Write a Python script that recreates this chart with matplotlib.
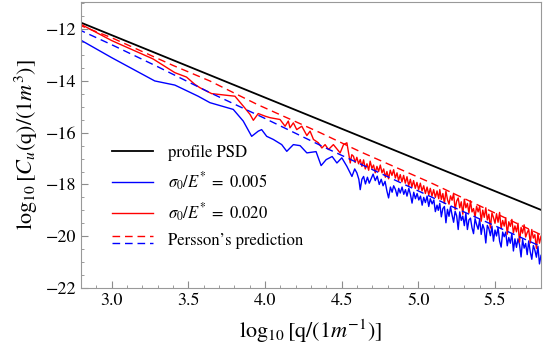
import matplotlib
matplotlib.use("Agg")
import matplotlib.pyplot as plt
from matplotlib.lines import Line2D
from matplotlib.legend_handler import HandlerBase
from matplotlib.ticker import MultipleLocator

plt.rcParams['font.family'] = 'STIXGeneral'
plt.rcParams['mathtext.fontset'] = 'stix'

# profile PSD (straight power law)
psd_x = [2.78, 5.82]
psd_y = [-11.70, -19.03]

# Persson's prediction
pr_red_x = [2.78, 3.0, 3.4, 3.64, 3.95, 4.36, 4.62, 5.08, 5.82]
pr_red_y = [-11.82, -12.33, -13.40, -14.0, -14.91, -16.0, -16.73, -17.93, -20.0]
pr_blue_x = [2.78, 3.0, 3.3, 3.64, 4.0, 4.4, 4.8, 5.2, 5.82]
pr_blue_y = [-12.0, -12.6, -13.45, -14.45, -15.45, -16.6, -17.7, -18.8, -20.45]

# sigma0/E* = 0.005 (blue)
blue_x = [2.78, 3.0, 3.15, 3.281, 3.412, 3.564, 3.641, 3.793, 3.858, 3.913,
          3.956, 3.978, 4.011, 4.054, 4.109, 4.142, 4.185, 4.229, 4.273, 4.333,
          4.366, 4.399, 4.438, 4.469, 4.501, 4.534, 4.567, 4.585,
          4.599, 4.612, 4.621, 4.632, 4.643, 4.655, 4.668, 4.680, 4.692, 4.705,
          4.719, 4.732, 4.745, 4.758, 4.770, 4.783, 4.795, 4.806, 4.818, 4.829,
          4.839, 4.851, 4.862, 4.872, 4.882, 4.894, 4.905, 4.916, 4.926, 4.938,
          4.949, 4.959, 4.970, 4.981, 4.992, 5.003, 5.014, 5.025, 5.035, 5.046,
          5.057, 5.068, 5.078, 5.090, 5.101, 5.111, 5.122,
          5.13, 5.14, 5.15, 5.16, 5.17, 5.18, 5.19, 5.20, 5.21, 5.22,
          5.23, 5.24, 5.25, 5.26, 5.27, 5.28, 5.29, 5.30, 5.31, 5.32,
          5.33, 5.34, 5.35, 5.36, 5.37, 5.38, 5.39, 5.40, 5.41, 5.42,
          5.43, 5.44, 5.45, 5.46, 5.47, 5.48, 5.49, 5.50, 5.51, 5.52,
          5.53, 5.54, 5.55, 5.56, 5.57, 5.58, 5.59, 5.60, 5.61, 5.62,
          5.63, 5.64, 5.65, 5.66, 5.67, 5.68, 5.69, 5.70, 5.71, 5.72,
          5.73, 5.74, 5.75, 5.76, 5.77, 5.78, 5.79, 5.80]
blue_y = [-12.36, -13.10, -13.58, -14.00, -14.16, -14.59, -14.84, -15.10, -15.55, -16.14,
          -15.94, -15.88, -16.14, -16.26, -16.46, -16.72, -16.46, -16.50, -16.78, -16.73,
          -17.27, -17.04, -16.92, -17.17, -16.97, -17.30, -17.69, -17.40,
          -17.55, -17.80, -18.20, -17.80, -17.69, -17.98, -17.72, -17.95, -17.78, -17.60,
          -17.85, -17.68, -18.00, -17.80, -18.05, -17.88, -18.25, -18.52, -18.10, -18.30,
          -18.05, -18.20, -18.45, -18.15, -18.33, -18.10, -18.38, -18.20, -18.45, -18.15,
          -18.40, -18.72, -18.30, -18.55, -18.35, -18.60, -18.45, -18.80, -18.50, -18.70,
          -18.45, -18.85, -18.55, -18.75, -18.60, -19.05, -18.80,
          -19.00, -18.73, -19.25, -18.93, -18.85, -19.48, -18.96, -19.23, -18.86, -19.18,
          -19.46, -19.04, -19.21, -19.74, -19.06, -19.39, -19.22, -19.59, -19.12, -19.74,
          -19.37, -19.30, -19.67, -19.90, -19.32, -19.55, -19.73, -19.35, -19.93, -19.55,
          -19.73, -20.26, -19.58, -19.71, -19.98, -19.61, -20.19, -19.76, -19.99, -19.66,
          -20.19, -20.42, -19.84, -20.02, -19.84, -20.37, -20.05, -20.27, -19.90, -20.57,
          -20.10, -20.43, -20.10, -20.33, -20.80, -20.13, -20.46, -20.28, -20.71, -20.18,
          -20.61, -20.89, -20.36, -20.54, -20.81, -20.39, -21.07, -20.74]

# sigma0/E* = 0.020 (red)
red_x = [2.78, 3.0, 3.27, 3.412, 3.488, 3.542, 3.575, 3.652, 3.804, 3.858,
         3.902, 3.924, 3.956, 4.000, 4.033, 4.098, 4.131, 4.152, 4.163, 4.185,
         4.207, 4.240, 4.273, 4.294, 4.316, 4.348, 4.371, 4.392, 4.414, 4.446,
         4.490, 4.512, 4.534,
         4.556, 4.566, 4.577, 4.588, 4.599, 4.610, 4.621, 4.632, 4.643, 4.654,
         4.665, 4.676, 4.686, 4.697, 4.708, 4.719, 4.730, 4.741, 4.752, 4.763,
         4.774, 4.785, 4.795, 4.806, 4.817, 4.828, 4.839, 4.850, 4.861, 4.871,
         4.882, 4.893, 4.904, 4.915, 4.926, 4.937, 4.948, 4.958, 4.969, 4.980,
         4.991, 5.002, 5.013, 5.024, 5.035, 5.046, 5.057, 5.068, 5.078, 5.089,
         5.100, 5.111, 5.122, 5.133,
         5.14, 5.15, 5.16, 5.17, 5.18, 5.19, 5.20, 5.21, 5.22, 5.23,
         5.24, 5.25, 5.26, 5.27, 5.28, 5.29, 5.30, 5.31, 5.32, 5.33,
         5.34, 5.35, 5.36, 5.37, 5.38, 5.39, 5.40, 5.41, 5.42, 5.43,
         5.44, 5.45, 5.46, 5.47, 5.48, 5.49, 5.50, 5.51, 5.52, 5.53,
         5.54, 5.55, 5.56, 5.57, 5.58, 5.59, 5.60, 5.61, 5.62, 5.63,
         5.64, 5.65, 5.66, 5.67, 5.68, 5.69, 5.70, 5.71, 5.72, 5.73,
         5.74, 5.75, 5.76, 5.77, 5.78, 5.79, 5.80]
red_y = [-11.75, -12.44, -13.15, -13.68, -13.85, -14.13, -14.26, -14.49, -14.59, -14.97,
         -15.29, -15.52, -15.26, -15.36, -15.42, -15.49, -15.75, -15.55, -15.81, -15.62,
         -15.88, -15.75, -16.11, -15.94, -16.26, -16.39, -16.59, -16.46, -16.65, -16.46,
         -16.78, -16.46, -16.39,
         -17.17, -16.85, -16.91, -17.15, -16.95, -17.20, -17.04, -17.30, -17.05, -17.40,
         -17.20, -17.45, -17.10, -17.38, -17.25, -17.55, -17.30, -17.50, -17.25, -17.55,
         -17.40, -17.72, -17.50, -17.78, -17.45, -17.65, -17.43, -17.75, -17.55, -17.85,
         -17.62, -17.90, -17.65, -17.95, -17.70, -18.05, -17.80, -18.10, -17.85, -18.15,
         -17.92, -18.20, -17.95, -18.25, -18.05, -18.35, -18.10, -18.40, -18.15, -18.45,
         -18.20, -18.50, -18.25, -18.55,
         -18.20, -18.58, -18.35, -18.73, -18.26, -18.58, -18.76, -18.44, -18.61, -18.34,
         -18.97, -18.64, -18.52, -18.90, -18.67, -19.15, -18.57, -18.90, -18.73, -19.10,
         -18.63, -19.06, -18.93, -19.26, -18.84, -19.06, -18.84, -19.42, -18.99, -19.27,
         -18.90, -19.37, -19.15, -19.68, -19.10, -19.28, -19.50, -19.13, -19.46, -19.08,
         -19.71, -19.39, -19.61, -19.29, -19.92, -19.44, -19.62, -19.35, -19.87, -19.60,
         -19.83, -19.50, -20.23, -19.66, -19.88, -19.56, -20.03, -19.86, -19.74, -20.26,
         -19.74, -20.07, -19.94, -20.47, -19.90, -20.27, -20.00]


class TwoDashHandler(HandlerBase):
    # draws the red and blue dashed samples one above the other
    def create_artists(self, legend, orig_handle, xdescent, ydescent,
                       width, height, fontsize, trans):
        arts = []
        for ln, frac in zip(orig_handle, (0.78, 0.22)):
            yy = frac * height - ydescent
            a = Line2D([-xdescent, width - xdescent], [yy, yy],
                       color=ln.get_color(), lw=ln.get_linewidth(),
                       linestyle=ln.get_linestyle(), dashes=(5.5, 3.5))
            a.set_transform(trans)
            arts.append(a)
        return arts


fig = plt.figure(figsize=(5.45, 3.6), dpi=100)
ax = fig.add_axes([81 / 545, 72 / 360, 460 / 545, 286 / 360])

h_psd, = ax.plot(psd_x, psd_y, color='black', lw=1.3)
h_blue, = ax.plot(blue_x, blue_y, color='#0000ff', lw=1.0)
h_red, = ax.plot(red_x, red_y, color='#ff0000', lw=1.0)
h_prr, = ax.plot(pr_red_x, pr_red_y, color='#ff0000', lw=1.0, dashes=(5.5, 3.5))
h_prb, = ax.plot(pr_blue_x, pr_blue_y, color='#0000ff', lw=1.0, dashes=(5.5, 3.5))

ax.set_xlim(2.8, 5.8)
ax.set_ylim(-22, -10.95)
ax.xaxis.set_major_locator(MultipleLocator(0.5))
ax.xaxis.set_minor_locator(MultipleLocator(0.1))
ax.yaxis.set_major_locator(MultipleLocator(2))
ax.yaxis.set_minor_locator(MultipleLocator(0.5))
ax.tick_params(which='both', direction='in', color='0.55', labelsize=13)
ax.tick_params(which='major', length=5, width=0.8)
ax.tick_params(which='minor', length=2.5, width=0.6)
for s in ax.spines.values():
    s.set_color('0.6')
    s.set_linewidth(0.8)

ax.set_xlabel(r'$\log_{10}[\mathrm{q}/(1m^{-1})]$', fontsize=16, labelpad=6)
ax.set_ylabel(r'$\log_{10}[C_u(\mathrm{q})/(1m^3)]$', fontsize=16, labelpad=4)

ax.legend([h_psd, h_blue, h_red, (h_prr, h_prb)],
          ['profile PSD', r'$\sigma_0/E^{*}\;=\;0.005$', r'$\sigma_0/E^{*}\;=\;0.020$',
           'Persson\u2019s prediction'],
          handler_map={tuple: TwoDashHandler()},
          loc='upper left', bbox_to_anchor=(0.067, 0.50), frameon=False,
          fontsize=12, handlelength=2.5, handletextpad=0.9, labelspacing=0.55,
          borderpad=0, borderaxespad=0)

fig.savefig('out.png', dpi=100)
